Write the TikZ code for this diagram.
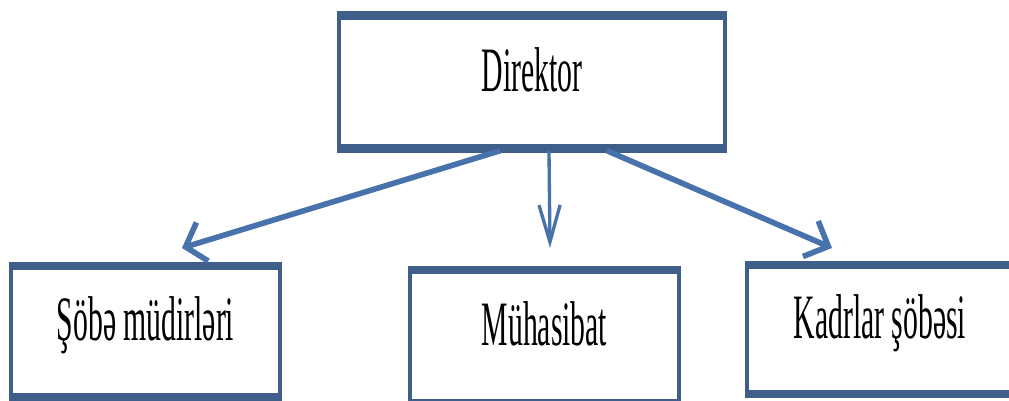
\documentclass[tikz,border=0pt]{standalone}
\usepackage{fontspec}
\setmainfont{Liberation Serif}[FakeStretch=0.47]
\usepackage{tikz}
\usetikzlibrary{arrows.meta}
\definecolor{boxblue}{RGB}{63,94,138}
\definecolor{arrowblue}{RGB}{72,114,172}

\begin{document}
\begin{tikzpicture} [x=0.02cm, y=-0.02cm,
  box/.style={draw=boxblue, line width=2.3pt, fill=white, inner sep=0pt,
    font=\fontsize{36pt}{40pt}\selectfont, text height=27pt, text depth=16.2pt},
  edgeline/.style={draw=boxblue, line width=5.1pt},
  link/.style={draw=arrowblue, line width=3.2pt}]
\useasboundingbox (0,0) rectangle (1009,401);
\clip (0,0) rectangle (1009,401);
% boxes
\node [box, minimum width=7.72cm, minimum height=2.59cm] (dir) at (532,82) {Direktor};
\node [box, minimum width=5.38cm, minimum height=2.54cm] (sob) at (145.5,331.5) {Şöbə müdirləri};
\node [box, minimum width=5.38cm, minimum height=2.58cm] (muh) at (544.5,336.5) {Mühasibat};
\node [box, minimum width=5.32cm, minimum height=2.50cm] (kad) at (880,329.5) {Kadrlar şöbəsi};
\foreach \n in {dir,sob,muh,kad}
  \draw [edgeline] (\n.north west) -- (\n.north east) (\n.south west) -- (\n.south east);
% arrows
\draw [link, -{Straight Barb[length=10pt, width=23pt]}]
  ([shift={(-32,2)}]dir.south) -- ([shift={(36.5,-18)}]sob.north);
\draw [link, line width=1.9pt, -{Straight Barb[length=21pt, width=12pt]}]
  ([shift={(17,2)}]dir.south) -- ([shift={(5.5,-22)}]muh.north);
\draw [link, -{Straight Barb[length=11pt, width=22pt]}]
  ([shift={(75,2)}]dir.south) -- ([shift={(-48,-17)}]kad.north);
\end{tikzpicture}
\end{document}
